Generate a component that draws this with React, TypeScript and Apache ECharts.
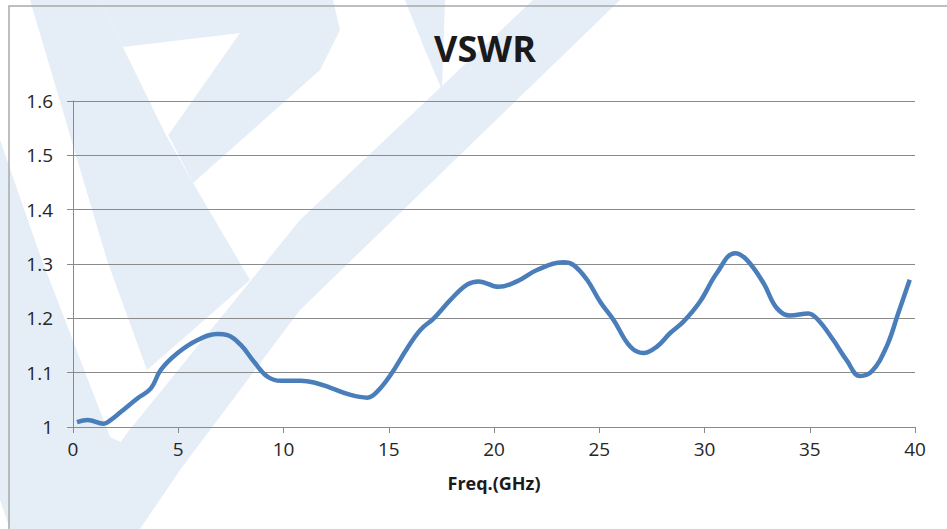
import React, { useEffect, useRef } from "react";
import * as echarts from "echarts";

const freqGHz = [0.19, 0.7, 1.46, 1.8, 2.28, 3.07, 3.7, 4.17, 4.97, 5.92, 6.86, 7.34, 7.97, 8.6, 9.23, 9.87, 10.8, 11.45, 12.24, 13.19, 13.98, 14.45, 15.09, 15.88, 16.51, 17.14, 17.93, 18.72, 19.27, 20.22, 21.09, 22.04, 23.3, 23.78, 24.42, 25.05, 25.68, 26.47, 27.1, 27.74, 28.37, 29.0, 29.79, 30.58, 31.45, 32.0, 32.8, 33.43, 34.06, 34.93, 35.4, 36.12, 36.75, 37.38, 37.94, 38.65, 39.2, 39.75];
const vswr = [1.009, 1.013, 1.006, 1.013, 1.028, 1.053, 1.071, 1.105, 1.136, 1.16, 1.171, 1.169, 1.151, 1.12, 1.093, 1.085, 1.085, 1.082, 1.072, 1.059, 1.054, 1.065, 1.096, 1.145, 1.179, 1.2, 1.234, 1.262, 1.268, 1.258, 1.268, 1.289, 1.303, 1.298, 1.271, 1.23, 1.197, 1.148, 1.136, 1.148, 1.173, 1.194, 1.231, 1.283, 1.32, 1.308, 1.265, 1.219, 1.205, 1.209, 1.197, 1.16, 1.123, 1.094, 1.102, 1.148, 1.209, 1.271];

const titleText = "VSWR";
const xAxisName = "Freq.(GHz)";
const xTicks = { min: 0, max: 40, interval: 5 };
const yTicks = { min: 1, max: 1.6, interval: 0.1 };

const WM = "#e5edf7";

export default function App() {
  const ref = useRef<HTMLDivElement>(null);
  useEffect(() => {
    if (!ref.current) return;
    const chart = echarts.init(ref.current, null, { renderer: "svg" });
    const font = "Open Sans";
    const wm = (points: number[][]) => ({
      type: "polygon",
      z: -10,
      silent: true,
      shape: { points },
      style: { fill: WM },
    });
    chart.setOption({
      animation: false,
      backgroundColor: "#ffffff",
      title: {
        text: titleText,
        left: 480,
        top: 25,
        textAlign: "center",
        textStyle: { fontFamily: font, fontSize: 36, fontWeight: "bold", color: "#1a1a1a" },
      },
      graphic: {
        elements: [
          // watermark shapes
          wm([[533, 0], [620, 0], [300, 310], [180, 470], [140, 529], [60, 529], [127, 433], [300, 220]]),
          wm([[0, 140], [40, 255], [110, 437], [127, 445], [100, 529], [10, 529], [0, 500]]),
          wm([[30, 0], [100, 0], [123, 47], [167, 137], [193, 183], [250, 280], [147, 370], [107, 260]]),
          wm([[100, 0], [333, 0], [340, 30], [320, 70], [193, 183], [123, 47]]),
          { type: "polygon", z: -9, silent: true, shape: { points: [[123, 47], [240, 33], [167, 137]] }, style: { fill: "#ffffff" } },
          wm([[405, 0], [445, 0], [442, 90], [425, 50]]),
          {
            type: "rect",
            z: -5,
            silent: true,
            shape: { x: 9, y: 6, width: 1200, height: 1000 },
            style: { fill: "none", stroke: "#a9a9a9", lineWidth: 1.5 },
          },
        ],
      },
      grid: { left: 73, right: 32, top: 101, bottom: 102 },
      xAxis: {
        type: "value",
        min: xTicks.min,
        max: xTicks.max,
        interval: xTicks.interval,
        name: xAxisName,
        nameLocation: "middle",
        nameGap: 47,
        nameTextStyle: { fontFamily: font, fontSize: 18, fontWeight: "bold", color: "#1a1a1a" },
        axisLine: { show: true, lineStyle: { color: "#8a8a8a", width: 1 } },
        axisTick: { show: true, length: 6, lineStyle: { color: "#8a8a8a" } },
        axisLabel: { fontFamily: font, fontSize: 19, color: "#262626", margin: 12 },
        splitLine: { show: false },
      },
      yAxis: {
        type: "value",
        min: yTicks.min,
        max: yTicks.max,
        interval: yTicks.interval,
        axisLine: { show: true, lineStyle: { color: "#8a8a8a", width: 1 } },
        axisTick: { show: true, length: 6, lineStyle: { color: "#8a8a8a" } },
        axisLabel: {
          fontFamily: font,
          fontSize: 19,
          color: "#262626",
          margin: 20,
          formatter: (v: number) => String(parseFloat(v.toFixed(1))),
        },
        splitLine: { show: true, lineStyle: { color: "#8a8a8a", width: 1.2 } },
      },
      series: [
        {
          type: "line",
          data: freqGHz.map((f, i) => [f, vswr[i]]),
          smooth: 0.4,
          showSymbol: false,
          lineStyle: { color: "#4a7ebb", width: 4.5 },
        },
      ],
    });
    return () => chart.dispose();
  }, []);
  return <div ref={ref} style={{ position: "absolute", left: 0, top: 0, width: 947, height: 529 }} />;
}
